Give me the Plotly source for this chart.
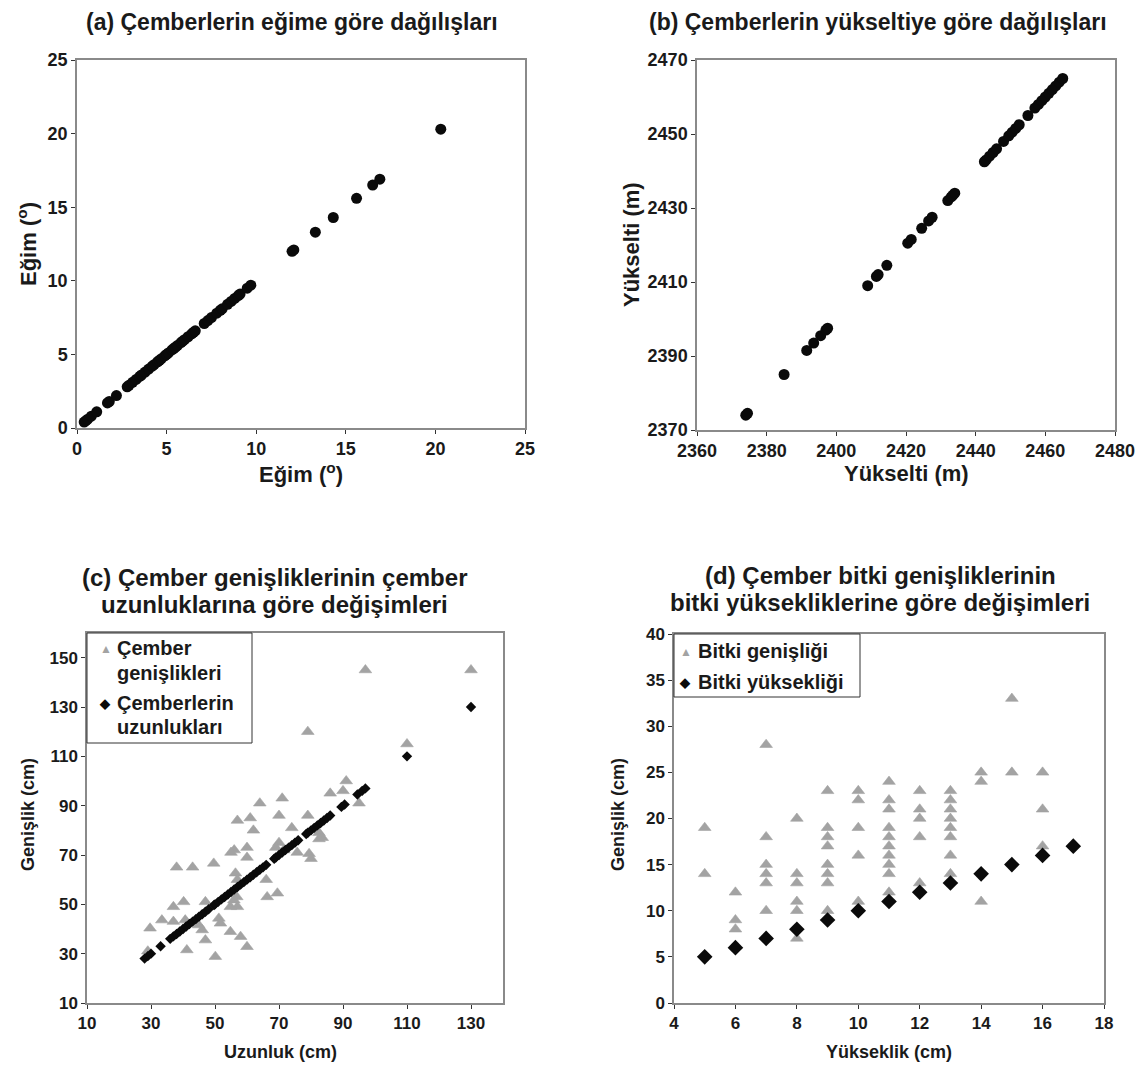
import plotly.graph_objects as go

# ---------------- data ----------------
# (a) slope vs slope
egim_x = [0.4, 0.5, 0.6, 0.8, 1.1, 1.7, 1.8, 2.2, 2.8, 2.9, 3.1, 3.3, 3.5, 3.6, 3.8, 4.0, 4.2,
          4.3, 4.5, 4.6, 4.7, 4.9, 5.0, 5.1, 5.3, 5.4, 5.5, 5.6, 5.8, 5.9, 6.0, 6.2, 6.4, 6.5,
          6.6, 7.1, 7.3, 7.5, 7.8, 8.0, 8.1, 8.4, 8.6, 8.8, 9.0, 9.1, 9.5, 9.7, 12.0, 12.1,
          13.3, 14.3, 15.6, 16.5, 16.9, 20.3]
egim_y = list(egim_x)

# (b) elevation vs elevation
yuk_x = [2374, 2374.5, 2385, 2391.5, 2393.5, 2395.5, 2397, 2397.5, 2409, 2411.5, 2412,
         2414.5, 2420.5, 2421.5, 2424.5, 2426.5, 2427.5, 2432, 2433, 2433.5, 2434, 2442.5,
         2443, 2444, 2445, 2446, 2448, 2449.5, 2450.5, 2451.5, 2452.5, 2455, 2457, 2458,
         2459, 2460, 2461, 2462, 2463, 2464, 2465]
yuk_y = list(yuk_x)

# (c) circle widths vs circle lengths
c_tri_x = [97, 130, 79, 110, 91, 86, 90, 95, 64, 71, 57, 61, 62, 70, 79, 74, 82.5, 83.5, 82.5,
           70, 69, 75.7, 79.4, 80, 71.5, 56, 55, 60, 60, 38, 43, 49.6, 56.4, 57, 66, 56.8, 66.3,
           69.5, 37, 40.2, 47, 55.9, 57, 54.8, 33.4, 29.7, 37, 40.7, 44.9, 46, 51.2, 51.7, 47,
           54.8, 58, 60, 41.2, 50.1, 29]
c_tri_y = [145, 145, 120, 115, 100, 95, 96, 91, 91, 93, 84, 85, 80, 86, 86, 81, 79, 77, 76.5,
           75, 73, 71, 70.5, 68.5, 72, 72, 71, 73, 69, 65, 65, 66.6, 62.6, 60, 60, 53, 53,
           54.5, 49, 51, 51, 51.7, 49, 49, 43.6, 40.3, 43, 43.6, 41.6, 39.6, 44.3, 42.3, 35.5,
           38.9, 36.9, 32.8, 31.5, 28.8, 31]
c_dia_x = [28, 29, 30, 33, 36, 37, 38, 39, 40, 41, 42, 43, 44, 45, 46, 47, 48, 49.7, 50, 51, 52,
           53, 54, 55, 56, 57, 58, 59, 60, 61, 62, 63, 64, 65, 66, 68.5, 69, 70, 71, 72, 73, 74,
           75, 76, 78.5, 79, 80, 81, 82, 83, 84, 85, 86, 89.5, 90.5, 94.5, 96, 97, 110, 130]
c_dia_y = list(c_dia_x)

# (d) plant widths vs plant heights
d_tri_x = [5, 5,
           6, 6, 6,
           7, 7, 7, 7, 7, 7,
           8, 8, 8, 8, 8, 8,
           9, 9, 9, 9, 9, 9, 9, 9,
           10, 10, 10, 10, 10,
           11, 11, 11, 11, 11, 11, 11, 11, 11, 11,
           12, 12, 12, 12, 12,
           13, 13, 13, 13, 13, 13, 13, 13,
           14, 14, 14,
           15, 15,
           16, 16, 16]
d_tri_y = [19, 14,
           12, 9, 8,
           28, 18, 15, 14, 13, 10,
           20, 14, 13, 11, 10, 7,
           23, 19, 18, 17, 15, 14, 13, 10,
           23, 22, 19, 16, 11,
           24, 22, 21, 19, 18, 17, 16, 15, 14, 12,
           23, 21, 20, 18, 13,
           23, 22, 21, 20, 19, 18, 16, 14,
           25, 24, 11,
           33, 25,
           25, 21, 17]
d_dia_x = [5, 6, 7, 8, 9, 10, 11, 12, 13, 14, 15, 16, 17]
d_dia_y = [5, 6, 7, 8, 9, 10, 11, 12, 13, 14, 15, 16, 17]

# texts
title_a = "(a) Çemberlerin eğime göre dağılışları"
title_b = "(b) Çemberlerin yükseltiye göre dağılışları"
title_c = ["(c) Çember genişliklerinin çember", "uzunluklarına göre değişimleri"]
title_d = ["(d) Çember bitki genişliklerinin", "bitki yüksekliklerine göre değişimleri"]
leg_c = [["Çember", "genişlikleri"], ["Çemberlerin", "uzunlukları"]]
leg_d = ["Bitki genişliği", "Bitki yüksekliği"]

# ---------------- figure ----------------
OFF = 8                      # page body margin of the browser
W, H = 1147 - 2 * OFF, 1079 - 2 * OFF
FONT = "Liberation Sans, Arial, sans-serif"
GRAY = "#a3a3a3"
BLACK = "#0a0a0a"
FRAME = "#8a8a8a"
TXT = "#1a1a1a"


def px_x(p):
    return (p - OFF) / W


def px_y(p):
    return 1 - (p - OFF) / H


fig = go.Figure()

fig.add_trace(go.Scatter(x=egim_x, y=egim_y, mode="markers", xaxis="x", yaxis="y",
                         marker=dict(color=BLACK, size=11, symbol="circle"), showlegend=False))
fig.add_trace(go.Scatter(x=yuk_x, y=yuk_y, mode="markers", xaxis="x2", yaxis="y2",
                         marker=dict(color=BLACK, size=11, symbol="circle"), showlegend=False))

fig.add_trace(go.Scatter(x=c_tri_x, y=c_tri_y, mode="markers", xaxis="x3", yaxis="y3",
                         marker=dict(color=GRAY, size=11, symbol="triangle-up",
                                     line=dict(color=GRAY, width=0.6)), showlegend=False))
fig.add_trace(go.Scatter(x=c_dia_x, y=c_dia_y, mode="markers", xaxis="x3", yaxis="y3",
                         marker=dict(color=BLACK, size=8, symbol="diamond"), showlegend=False))

fig.add_trace(go.Scatter(x=d_tri_x, y=d_tri_y, mode="markers", xaxis="x4", yaxis="y4",
                         marker=dict(color=GRAY, size=11, symbol="triangle-up",
                                     line=dict(color=GRAY, width=0.6)), showlegend=False))
fig.add_trace(go.Scatter(x=d_dia_x, y=d_dia_y, mode="markers", xaxis="x4", yaxis="y4",
                         marker=dict(color=BLACK, size=12, symbol="diamond"), showlegend=False))


def ax(domain, rng, dtick, tick0, anchor, fs):
    return dict(domain=domain, range=rng, dtick=dtick, tick0=tick0, anchor=anchor,
                automargin=False, showgrid=False, zeroline=False, showline=True, mirror=True,
                linecolor=FRAME, linewidth=1.5, ticks="outside", ticklen=4,
                tickcolor="#333", tickwidth=1,
                tickfont=dict(family=FONT, size=fs, color=TXT, weight="bold"))


fig.update_layout(
    template="none",
    width=W, height=H, margin=dict(l=0, r=0, t=0, b=0, autoexpand=False),
    paper_bgcolor="white", plot_bgcolor="white", showlegend=False,
    font=dict(family=FONT, color=TXT),
    xaxis=ax([px_x(77), px_x(525)], [0, 25], 5, 0, "y", 18),
    yaxis=ax([px_y(428), px_y(60)], [0, 25], 5, 0, "x", 18),
    xaxis2=ax([px_x(697), px_x(1115)], [2360, 2480], 20, 2360, "y2", 18),
    yaxis2=ax([px_y(430), px_y(60)], [2370, 2470], 20, 2370, "x2", 18),
    xaxis3=ax([px_x(87), px_x(503)], [10, 140], 20, 10, "y3", 17),
    yaxis3=ax([px_y(1003), px_y(633)], [10, 160], 20, 10, "x3", 17),
    xaxis4=ax([px_x(674), px_x(1104)], [4, 18], 2, 4, "y4", 17),
    yaxis4=ax([px_y(1003), px_y(634)], [0, 40], 5, 0, "x4", 17),
)


def ann(text, x, y, size, angle=0, xanchor="center", color=TXT):
    fig.add_annotation(text=text, x=px_x(x), y=px_y(y), xref="paper", yref="paper",
                       xanchor=xanchor, yanchor="middle", showarrow=False, textangle=angle,
                       font=dict(family=FONT, size=size, color=color, weight="bold"))


# titles
ann(title_a, 292, 22, 23)
ann(title_b, 878, 22, 23)
ann(title_c[0], 274, 577, 24)
ann(title_c[1], 274, 604, 24)
ann(title_d[0], 880, 575, 24)
ann(title_d[1], 880, 602, 24)

# axis titles
ann("Eğim (<sup>o</sup>)", 301, 473, 22)
ann("Eğim (<sup>o</sup>)", 27, 244, 22, -90)
ann("Yükselti (m)", 906, 473, 22)
ann("Yükselti (m)", 631, 245, 22, -90)
ann("Uzunluk (cm)", 280, 1052, 18)
ann("Genişlik (cm)", 28, 815, 18, -90)
ann("Yükseklik (cm)", 889, 1052, 18)
ann("Genişlik (cm)", 618, 815, 18, -90)

# legend (c)
fig.add_shape(type="rect", xref="paper", yref="paper",
              x0=px_x(87), x1=px_x(252), y0=px_y(743), y1=px_y(633),
              line=dict(color="#333", width=1), fillcolor="white", layer="above")
ann("▲", 106, 649, 12, color=GRAY)
ann(leg_c[0][0], 115, 648, 20, xanchor="left")
ann(leg_c[0][1], 115, 673, 20, xanchor="left")
ann("◆", 105, 703, 13, color=BLACK)
ann(leg_c[1][0], 115, 703, 20, xanchor="left")
ann(leg_c[1][1], 115, 727, 20, xanchor="left")

# legend (d)
fig.add_shape(type="rect", xref="paper", yref="paper",
              x0=px_x(674), x1=px_x(860), y0=px_y(697), y1=px_y(634),
              line=dict(color="#333", width=1), fillcolor="white", layer="above")
ann("▲", 686, 652, 12, color=GRAY)
ann(leg_d[0], 696, 651, 20, xanchor="left")
ann("◆", 685, 682, 13, color=BLACK)
ann(leg_d[1], 696, 682, 20, xanchor="left")

fig.write_html("out.html")
